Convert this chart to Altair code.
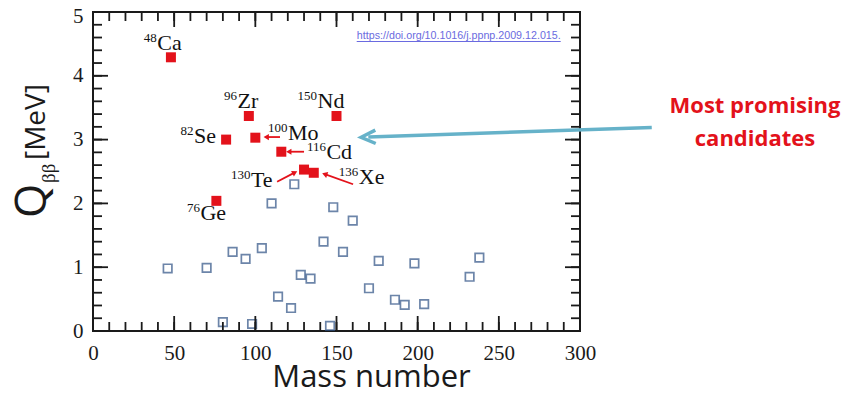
import math
import altair as alt
import pandas as pd

# ---------------- data ----------------
RED_NAMES = ["48Ca", "76Ge", "82Se", "96Zr", "100Mo", "116Cd", "130Te", "136Xe", "150Nd"]
RED_A = [48, 76, 82, 96, 100, 116, 130, 136, 150]
RED_Q = [4.29, 2.04, 3.00, 3.37, 3.03, 2.81, 2.53, 2.48, 3.37]

BLUE_A = [46, 70, 80, 86, 94, 98, 104, 110, 114, 122, 124, 128, 134, 142,
          146, 148, 154, 160, 170, 176, 186, 192, 198, 204, 232, 238]
BLUE_Q = [0.98, 0.99, 0.14, 1.24, 1.13, 0.11, 1.30, 2.00, 0.54, 0.36, 2.30, 0.88, 0.82, 1.40,
          0.08, 1.94, 1.24, 1.73, 0.67, 1.10, 0.49, 0.41, 1.06, 0.42, 0.85, 1.15]

LABEL_MASS = ["48", "76", "82", "96", "100", "116", "130", "136", "150"]
LABEL_SYM = ["Ca", "Ge", "Se", "Zr", "Mo", "Cd", "Te", "Xe", "Nd"]
LABEL_X = [39.6, 66.2, 62.2, 89.0, 120.1, 143.8, 97.3, 163.7, 138.3]
LABEL_Y = [4.40, 1.74, 2.94, 3.49, 3.00, 2.69, 2.26, 2.30, 3.50]

ARROW_X1 = [115.2, 130.0, 113.4, 160.2]
ARROW_Y1 = [3.04, 2.81, 2.34, 2.30]
ARROW_X2 = [105.4, 119.3, 125.5, 141.5]
ARROW_Y2 = [3.04, 2.81, 2.50, 2.47]

BIG_ARROW_X = [344.2, 169.6]
BIG_ARROW_Y = [3.19, 3.04]

X_TICKS = [0, 50, 100, 150, 200, 250, 300]
X_MINOR = [0, 10, 20, 30, 40, 50, 60, 70, 80, 90, 100, 110, 120, 130, 140, 150, 160, 170,
           180, 190, 200, 210, 220, 230, 240, 250, 260, 270, 280, 290, 300]
Y_TICKS = [0, 1, 2, 3, 4, 5]
Y_MINOR = [0, 0.2, 0.4, 0.6, 0.8, 1, 1.2, 1.4, 1.6, 1.8, 2, 2.2, 2.4, 2.6, 2.8, 3, 3.2, 3.4,
           3.6, 3.8, 4, 4.2, 4.4, 4.6, 4.8, 5]

NOTE_LINES = ["Most promising", "candidates"]
DOI = "https://doi.org/10.1016/j.ppnp.2009.12.015."
YTITLE_PARTS = ["Q", "\u03b2\u03b2", "[MeV]"]
XTITLE = "Mass number"

# ---------------- layout ----------------
W, H = 487, 319
SX, SY = W / 300.0, H / 5.0
INK = "#1a1a1a"
RED = "#e3121b"
BLUE = "#2f5285"
TEAL = "#66b2c9"

xs = alt.Scale(domain=[0, 300], nice=False, zero=False)
ys = alt.Scale(domain=[0, 5], nice=False, zero=False)

x_axis = alt.Axis(values=X_TICKS, title=XTITLE, labelFont="Liberation Serif", labelFontSize=21,
                  labelColor=INK, labelPadding=11, ticks=False, tickSize=0, domain=False,
                  grid=False, labelFlush=False, titleFont="Open Sans", titleFontSize=31,
                  titleFontWeight="normal", titleColor=INK, titleX=278, titleY=55,
                  titleBaseline="alphabetic", titleAlign="center")
y_axis = alt.Axis(values=Y_TICKS, title="", labelFont="Liberation Serif", labelFontSize=21,
                  labelColor=INK, labelPadding=10, ticks=False, tickSize=0, domain=False,
                  grid=False, labelFlush=False,
                  labelOffset={"condition": {"test": "datum.value == 5", "value": 4}, "value": 0})


def X(f):
    return alt.X(f, scale=xs, axis=x_axis)


def Y(f):
    return alt.Y(f, scale=ys, axis=y_axis)


blue_df = pd.DataFrame({"A": BLUE_A, "Q": BLUE_Q})
red_df = pd.DataFrame({"A": RED_A, "Q": RED_Q, "name": RED_NAMES})
lab_df = pd.DataFrame({"A": LABEL_X, "Q": LABEL_Y, "mass": LABEL_MASS, "sym": LABEL_SYM})

# arrow heads (small red triangles) and shafts
heads = []
for x1, y1, x2, y2 in zip(ARROW_X1, ARROW_Y1, ARROW_X2, ARROW_Y2):
    dxp = (x2 - x1) * SX
    dyp = -(y2 - y1) * SY
    L = math.hypot(dxp, dyp)
    ang = math.degrees(math.atan2(dxp, -dyp)) % 360
    back = 3.0
    hx = x2 - back * dxp / L / SX
    hy = y2 + back * dyp / L / SY
    heads.append({"A": x1, "Q": y1, "hx": hx, "hy": hy, "ang": ang})
arr_df = pd.DataFrame(heads)

bdx = (BIG_ARROW_X[0] - BIG_ARROW_X[1]) * SX
bdy = -(BIG_ARROW_Y[0] - BIG_ARROW_Y[1]) * SY
big_ang = math.degrees(math.atan2(bdy, bdx)) % 360
big_df = pd.DataFrame({"A": [BIG_ARROW_X[0]], "Q": [BIG_ARROW_Y[0]],
                       "x2": [BIG_ARROW_X[1]], "y2": [BIG_ARROW_Y[1]], "ang": [big_ang]})

blue = alt.Chart(blue_df).mark_square(filled=False, size=72, strokeWidth=1.7, color=BLUE).encode(
    x=X("A:Q"), y=Y("Q:Q"))
red = alt.Chart(red_df).mark_square(filled=True, size=100, color=RED, opacity=1).encode(
    x=X("A:Q"), y=Y("Q:Q"))

sym = alt.Chart(lab_df).mark_text(align="left", baseline="alphabetic", font="Liberation Serif",
                                  fontSize=22, color="#111111").encode(
    x=X("A:Q"), y=Y("Q:Q"), text="sym:N")
mass = alt.Chart(lab_df).mark_text(align="right", baseline="alphabetic", font="Liberation Serif",
                                   fontSize=13, dy=-8, dx=-0.5, color="#111111").encode(
    x=X("A:Q"), y=Y("Q:Q"), text="mass:N")

shafts = alt.Chart(arr_df).mark_rule(color=RED, strokeWidth=1.8).encode(
    x=X("A:Q"), y=Y("Q:Q"), x2="hx:Q", y2="hy:Q")
tips = alt.Chart(arr_df).mark_point(shape="triangle", filled=True, size=38, color=RED, opacity=1).encode(
    x=X("hx:Q"), y=Y("hy:Q"), angle=alt.Angle("ang:Q", scale=None))

big_line = alt.Chart(big_df).mark_rule(color=TEAL, strokeWidth=3.5).encode(
    x=X("A:Q"), y=Y("Q:Q"), x2="x2:Q", y2="y2:Q")
big_head = alt.Chart(big_df).mark_point(shape="M 1 -0.93 L -1 0 L 1 0.93", filled=False, size=207,
                                        color=TEAL, strokeWidth=3.5, opacity=1).encode(
    x=X("x2:Q"), y=Y("y2:Q"), angle=alt.Angle("ang:Q", scale=None))


# ticks pointing inward on all four sides
def vticks(vals, y0, y1):
    return alt.Chart(pd.DataFrame({"A": vals})).mark_rule(color=INK, strokeWidth=1.8).encode(
        x=X("A:Q"), y=alt.value(y0), y2=alt.value(y1))


def hticks(vals, x0, x1):
    return alt.Chart(pd.DataFrame({"Q": vals})).mark_rule(color=INK, strokeWidth=1.8).encode(
        y=Y("Q:Q"), x=alt.value(x0), x2=alt.value(x1))


ticks = [
    vticks(X_MINOR, H, H - 9), vticks(X_TICKS, H, H - 15),
    vticks(X_MINOR, 0, 9), vticks(X_TICKS, 0, 15),
    hticks(Y_MINOR, 0, 9), hticks(Y_TICKS, 0, 15),
    hticks(Y_MINOR, W, W - 9), hticks(Y_TICKS, W, W - 15),
]

one = pd.DataFrame({"t": [""]})
q_title = alt.Chart(pd.DataFrame({"t": [YTITLE_PARTS[0]]})).mark_text(
    angle=270, align="left", baseline="alphabetic", font="Open Sans", fontSize=44, color=INK).encode(
    x=alt.value(46 - 93), y=alt.value(218 - 12), text="t:N")
bb_title = alt.Chart(pd.DataFrame({"t": [YTITLE_PARTS[1]]})).mark_text(
    angle=270, align="left", baseline="alphabetic", font="Liberation Serif", fontSize=19, color=INK).encode(
    x=alt.value(55 - 93), y=alt.value(183 - 12), text="t:N")
mev_title = alt.Chart(pd.DataFrame({"t": [YTITLE_PARTS[2]]})).mark_text(
    angle=270, align="left", baseline="alphabetic", font="Open Sans", fontSize=28, color=INK).encode(
    x=alt.value(45 - 93), y=alt.value(160 - 12), text="t:N")

note = alt.Chart(one).mark_text(text=NOTE_LINES, lineHeight=33, align="center", baseline="alphabetic",
                                font="Open Sans", fontWeight="bold", fontSize=22, color=RED).encode(
    x=alt.value(662), y=alt.value(101))

doi = alt.Chart(pd.DataFrame({"t": [DOI]})).mark_text(
    align="right", baseline="alphabetic", font="Liberation Sans", fontSize=10.7, color="#6a6ae0").encode(
    x=alt.value(467.7), y=alt.value(27), text="t:N")
doi_line = alt.Chart(one).mark_rule(color="#6a6ae0", strokeWidth=1.2).encode(
    x=alt.value(263.7), x2=alt.value(467.7), y=alt.value(29.5))

chart = alt.layer(
    blue, *ticks, red, shafts, tips, sym, mass, big_line, big_head,
    q_title, bb_title, mev_title, note, doi, doi_line
).properties(
    width=W, height=H,
    autosize=alt.AutoSizeParams(type="none"),
    padding={"left": 85, "top": 4, "right": 264, "bottom": 56},
    background="white",
).configure_view(stroke=INK, strokeWidth=2)

chart.save("out.html", embed_options={"renderer": "svg", "actions": False})
